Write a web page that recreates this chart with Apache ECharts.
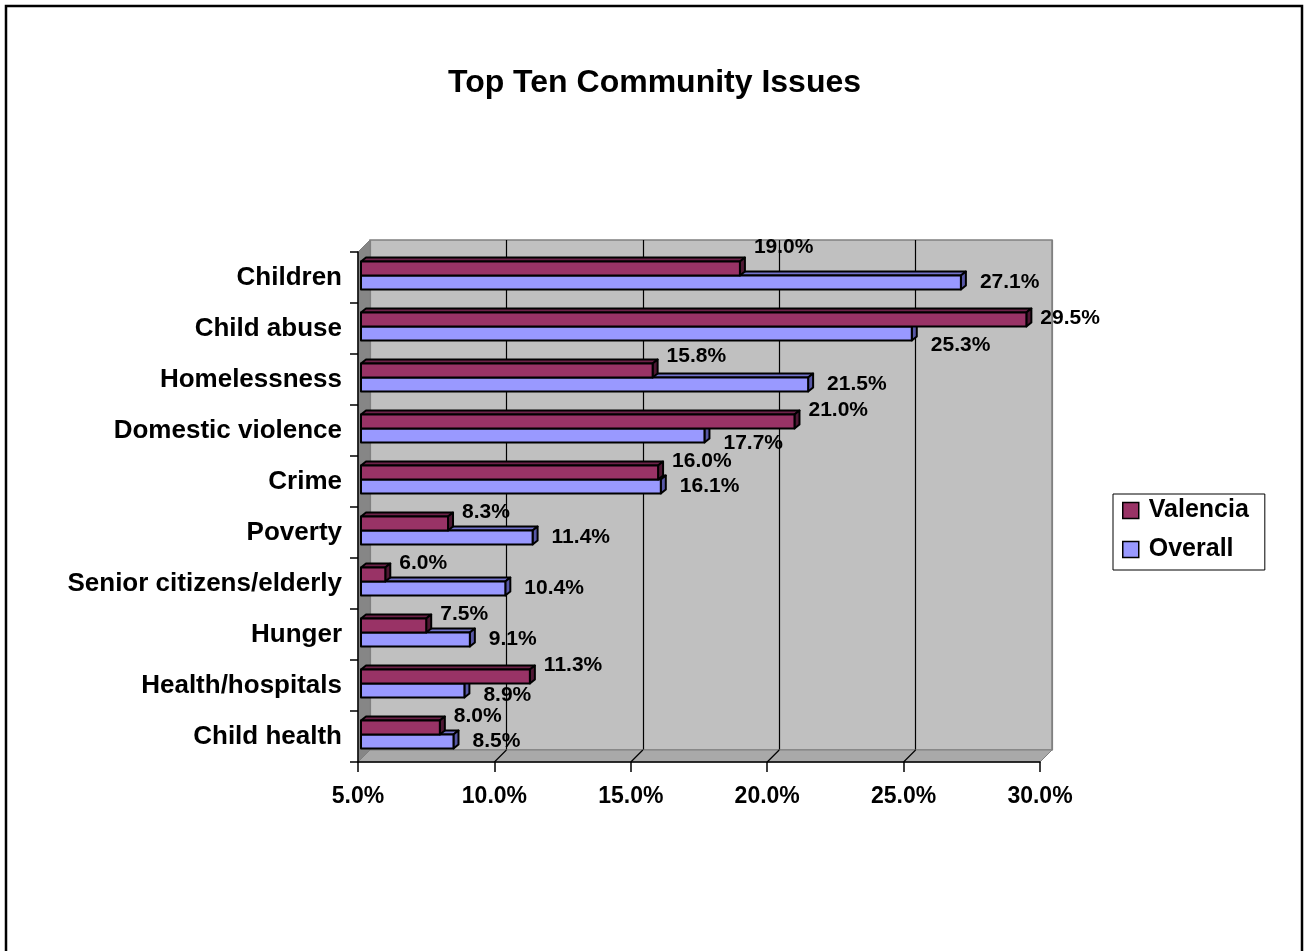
<!DOCTYPE html>
<html>
<head>
<meta charset="utf-8">
<title>Top Ten Community Issues</title>
<script src="https://cdn.jsdelivr.net/npm/echarts@6/dist/echarts.min.js"></script>
<style>
  html, body { margin: 0; padding: 0; background: #ffffff; }
  #chart { width: 1309px; height: 951px; }
</style>
</head>
<body>
<div id="chart"></div>
<script>
// ---- data ----
const categories = [
  'Children', 'Child abuse', 'Homelessness', 'Domestic violence', 'Crime',
  'Poverty', 'Senior citizens/elderly', 'Hunger', 'Health/hospitals', 'Child health'
];
const valencia = [19.0, 29.5, 15.8, 21.0, 16.0, 8.3, 6.0, 7.5, 11.3, 8.0];
const overall  = [27.1, 25.3, 21.5, 17.7, 16.1, 11.4, 10.4, 9.1, 8.9, 8.5];
const axisMin = 5;
const axisMax = 30;
const axisStep = 5;
const seriesNames = ['Valencia', 'Overall'];

// ---- layout / style ----
const FONT = '"Liberation Sans", Arial, Helvetica, sans-serif';
const FRONT = { left: 358, top: 252, width: 682, height: 510 };
const DEPTH = 12;            // offset of the back wall (right / up)
const BAR = { face: 14, dx: 5, dy: 4 };
const COLORS = {
  Valencia: { face: '#993366', top: '#6e2249', side: '#4f1834' },
  Overall:  { face: '#9999FF', top: '#7373cc', side: '#5858a6' }
};
// value label placement relative to the bar end
const LABEL = {
  Valencia: { dx: 9, dy: -11 },
  Overall:  { dx: 14, dy: 0 }
};
// small vertical nudges for a few value labels so they don't crowd
const labelNudge = {
  Valencia: { 'Children': -10, 'Child abuse': 10, 'Homelessness': -3 },
  Overall:  { 'Child abuse': 12, 'Domestic violence': 8, 'Health/hospitals': 5 }
};

function barRenderer(name, slot) {
  const c = COLORS[name];
  const lp = LABEL[name];
  return function (params, api) {
    const v = api.value(0);
    const ci = api.value(1);
    const base = api.coord([axisMin, ci]);
    const end = api.coord([v, ci]);
    const top = base[1] + (slot === 0 ? -16 : -2);
    const x0 = base[0] + 3;
    const x1 = end[0];
    const h = BAR.face, dx = BAR.dx, dy = BAR.dy;
    const stroke = { stroke: '#000', lineWidth: 2, lineJoin: 'round' };
    const nudge = (labelNudge[name][categories[ci]] || 0);
    const labelY = top + h / 2 + lp.dy + nudge;
    return {
      type: 'group',
      children: [
        { type: 'polygon',
          shape: { points: [[x0, top], [x0 + dx, top - dy], [x1 + dx, top - dy], [x1, top]] },
          style: Object.assign({ fill: c.top }, stroke) },
        { type: 'polygon',
          shape: { points: [[x1, top], [x1 + dx, top - dy], [x1 + dx, top - dy + h], [x1, top + h]] },
          style: Object.assign({ fill: c.side }, stroke) },
        { type: 'rect',
          shape: { x: x0, y: top, width: x1 - x0, height: h },
          style: Object.assign({ fill: c.face }, stroke) },
        { type: 'text',
          z2: 10,
          style: {
            text: v.toFixed(1) + '%',
            x: x1 + dx + lp.dx,
            y: labelY,
            fill: '#000',
            fontFamily: FONT,
            fontWeight: 'bold',
            fontSize: 21,
            align: 'left',
            verticalAlign: 'middle'
          } }
      ]
    };
  };
}

const chart = echarts.init(document.getElementById('chart'), null, { renderer: 'canvas' });

const option = {
  backgroundColor: '#ffffff',
  animation: false,
  textStyle: { fontFamily: FONT },
  title: {
    text: 'Top Ten Community Issues',
    left: 'center',
    top: 62,
    textStyle: { fontFamily: FONT, fontWeight: 'bold', fontSize: 32, color: '#000' }
  },
  legend: {
    orient: 'vertical',
    left: 1113,
    top: 494,
    padding: [4, 16, 8, 9],
    itemGap: 14,
    itemWidth: 16,
    itemHeight: 16,
    itemTextGap: 10,
    borderColor: '#000',
    borderWidth: 1,
    textStyle: {
      fontFamily: FONT, fontWeight: 'bold', fontSize: 25, color: '#000',
      padding: [0, 0, 0, 5]
    },
    data: seriesNames.map(n => ({
      name: n,
      icon: 'rect',
      itemStyle: { color: COLORS[n].face, borderColor: '#000', borderWidth: 1.5 }
    }))
  },
  grid: [
    { // front plane: axes and bars
      left: FRONT.left, top: FRONT.top, width: FRONT.width, height: FRONT.height,
      containLabel: false
    },
    { // back wall
      left: FRONT.left + DEPTH, top: FRONT.top - DEPTH, width: FRONT.width, height: FRONT.height,
      show: true, backgroundColor: '#C0C0C0', borderColor: '#808080', borderWidth: 1.5
    }
  ],
  xAxis: [
    {
      type: 'value', gridIndex: 0, min: axisMin, max: axisMax, interval: axisStep, z: 5,
      axisLine: { show: true, lineStyle: { color: '#000', width: 1.5 } },
      axisTick: { show: true, length: 10, lineStyle: { color: '#000', width: 1.5 } },
      axisLabel: {
        margin: 23, color: '#000', fontFamily: FONT, fontWeight: 'bold', fontSize: 23,
        formatter: v => v.toFixed(1) + '%'
      },
      splitLine: { show: false }
    },
    {
      type: 'value', gridIndex: 1, min: axisMin, max: axisMax, interval: axisStep,
      axisLine: { show: false }, axisTick: { show: false }, axisLabel: { show: false },
      splitLine: { show: true, lineStyle: { color: ['#808080', '#000', '#000', '#000', '#000', '#808080'], width: 1.2 } }
    }
  ],
  yAxis: [
    {
      type: 'category', gridIndex: 0, data: categories, inverse: true, z: 5,
      axisLine: { show: true, lineStyle: { color: '#000', width: 1.5 } },
      axisTick: { show: true, length: 8, lineStyle: { color: '#000', width: 1.5 } },
      axisLabel: { margin: 16, color: '#000', fontFamily: FONT, fontWeight: 'bold', fontSize: 26 }
    },
    {
      type: 'category', gridIndex: 1, data: categories, inverse: true,
      axisLine: { show: false }, axisTick: { show: false }, axisLabel: { show: false },
      splitLine: { show: false }
    }
  ],
  series: [
    {
      name: 'Overall', type: 'custom', xAxisIndex: 0, yAxisIndex: 0, z: 3, clip: false,
      itemStyle: { color: COLORS.Overall.face },
      encode: { x: 0, y: 1 },
      renderItem: barRenderer('Overall', 1),
      data: overall.map((v, i) => [v, i])
    },
    {
      name: 'Valencia', type: 'custom', xAxisIndex: 0, yAxisIndex: 0, z: 4, clip: false,
      itemStyle: { color: COLORS.Valencia.face },
      encode: { x: 0, y: 1 },
      renderItem: barRenderer('Valencia', 0),
      data: valencia.map((v, i) => [v, i])
    }
  ]
};

chart.setOption(option);

// side wall, floor and floor tick lines, placed from the axis scale
function drawWalls() {
  const xL = chart.convertToPixel({ xAxisIndex: 0 }, axisMin);
  const xR = chart.convertToPixel({ xAxisIndex: 0 }, axisMax);
  const yT = FRONT.top, yB = FRONT.top + FRONT.height;
  const d = DEPTH;
  const els = [
    { type: 'polygon', z: 1,
      shape: { points: [[xL, yT], [xL + d, yT - d], [xL + d, yB - d], [xL, yB]] },
      style: { fill: '#868686', stroke: '#808080', lineWidth: 1 } },
    { type: 'polygon', z: 1,
      shape: { points: [[xL, yB], [xL + d, yB - d], [xR + d, yB - d], [xR, yB]] },
      style: { fill: '#a9a9a9', stroke: '#808080', lineWidth: 1 } }
  ];
  for (let t = axisMin + axisStep; t < axisMax; t += axisStep) {
    const x = chart.convertToPixel({ xAxisIndex: 0 }, t);
    els.push({ type: 'line', z: 1,
      shape: { x1: x, y1: yB, x2: x + d, y2: yB - d },
      style: { stroke: '#000', lineWidth: 1.2 } });
  }
  // outer frame
  els.push({ type: 'rect', z: 20,
    shape: { x: 6, y: 6, width: 1296, height: 1000 },
    style: { fill: 'none', stroke: '#000', lineWidth: 2.5 } });
  chart.setOption({ graphic: { elements: els } });
}
drawWalls();
</script>
</body>
</html>
